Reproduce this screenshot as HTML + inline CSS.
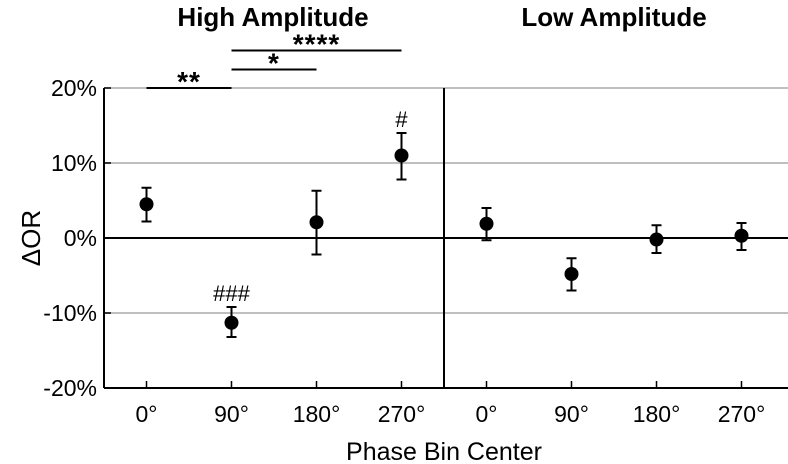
<!DOCTYPE html>
<html><head><meta charset="utf-8"><style>
html,body{margin:0;padding:0;background:#fff;}
svg{display:block;font-family:"Liberation Sans",sans-serif;}
</style></head><body>
<svg id="chart" width="788" height="464" viewBox="0 0 788 464">
<g id="grid"></g>
<g id="axes"></g>
<g id="marks"></g>
<text x="273" y="26" text-anchor="middle" font-size="26" font-weight="bold">High Amplitude</text>
<text x="614" y="26" text-anchor="middle" font-size="26" font-weight="bold">Low Amplitude</text>
<text x="444" y="460" text-anchor="middle" font-size="25">Phase Bin Center</text>
<text transform="translate(40,238) rotate(-90)" text-anchor="middle" font-size="26">ΔOR</text>
</svg>
<script>
const categories = ["0°","90°","180°","270°"];
const highValues = [4.5, -11.3, 2.1, 11.0];
const highUpper = [6.7, -9.2, 6.3, 14.0];
const highLower = [2.2, -13.2, -2.2, 7.8];
const lowValues = [1.9, -4.8, -0.2, 0.3];
const lowUpper = [4.0, -2.7, 1.7, 2.0];
const lowLower = [-0.3, -7.0, -2.0, -1.6];
const yTicks = [20, 10, 0, -10, -20];
const highMarks = ["", "###", "", "#"];
const sigBars = [[0,1,"**"],[1,2,"*"],[1,3,"****"]];

const NS="http://www.w3.org/2000/svg";
const L=104,R=788,T=88,B=388,MID=444;
function y(v){return 238 - v*7.5;}
function xHigh(i){return 146.5 + i*85;}
function xLow(i){return 486.5 + i*85;}
function mk(tag,attrs,parent,text){const e=document.createElementNS(NS,tag);for(const k in attrs)e.setAttribute(k,attrs[k]);if(text!==undefined)e.textContent=text;parent.appendChild(e);return e;}
const grid=document.getElementById('grid'),axes=document.getElementById('axes'),marks=document.getElementById('marks'),svg=document.getElementById('chart');

yTicks.forEach(v=>{
  if(v!==0&&v!==-20){const g=mk('line',{x1:L,x2:R,y1:y(v),y2:y(v),stroke:'#aaa','stroke-width':1.5},grid);
  
  }
  const t=mk('text',{x:L-7,y:y(v)+8,'text-anchor':'end','font-size':23},axes,v+'%');
  
  
  const tk=mk('line',{x1:L,x2:L+7,y1:y(v),y2:y(v),stroke:'#000','stroke-width':1.5},axes);
  
  
});
const zero=mk('line',{x1:L,x2:R,y1:y(0),y2:y(0),stroke:'#000','stroke-width':2},axes);


[[L,T,L,B],[L,B,R,B],[MID,T,MID,B]].forEach(a=>{
  const l=mk('line',{x1:a[0],y1:a[1],x2:a[2],y2:a[3],stroke:'#000','stroke-width':2},axes);
  
  
});

function series(vals,up,lo,xf,name){
  categories.forEach((c,i)=>{
    const x=xf(i);
    const tk=mk('line',{x1:x,x2:x,y1:B,y2:B-7,stroke:'#000','stroke-width':1.5},axes);
    
    
    const t=mk('text',{x:x,y:B+34,'text-anchor':'middle','font-size':23},axes,c);
    
    
    const g=mk('g',{},marks);
    
    
    mk('line',{x1:x,x2:x,y1:y(up[i]),y2:y(lo[i]),stroke:'#000','stroke-width':2},g);
    mk('line',{x1:x-5,x2:x+5,y1:y(up[i]),y2:y(up[i]),stroke:'#000','stroke-width':2},g);
    mk('line',{x1:x-5,x2:x+5,y1:y(lo[i]),y2:y(lo[i]),stroke:'#000','stroke-width':2},g);
    mk('circle',{cx:x,cy:y(vals[i]),r:7,fill:'#000'},g);
  });
}
series(highValues,highUpper,highLower,xHigh,'high');
series(lowValues,lowUpper,lowLower,xLow,'low');

highMarks.forEach((m,i)=>{
  if(!m)return;
  const t=mk('text',{x:xHigh(i),y:y(highUpper[i])-6,'text-anchor':'middle','font-size':22},marks,m);
  
  
});
const sigY=[88,69.5,50.5];
sigBars.forEach((s,k)=>{
  const x1=xHigh(s[0]),x2=xHigh(s[1]);
  const l=mk('line',{x1:x1,x2:x2,y1:sigY[k],y2:sigY[k],stroke:'#000','stroke-width':2},svg);
  
  
  const t=mk('text',{x:(x1+x2)/2,y:sigY[k]+3,'text-anchor':'middle','font-size':28,'font-weight':'bold','letter-spacing':'1'},svg,s[2]);
  
  
});
</script>
</body></html>
